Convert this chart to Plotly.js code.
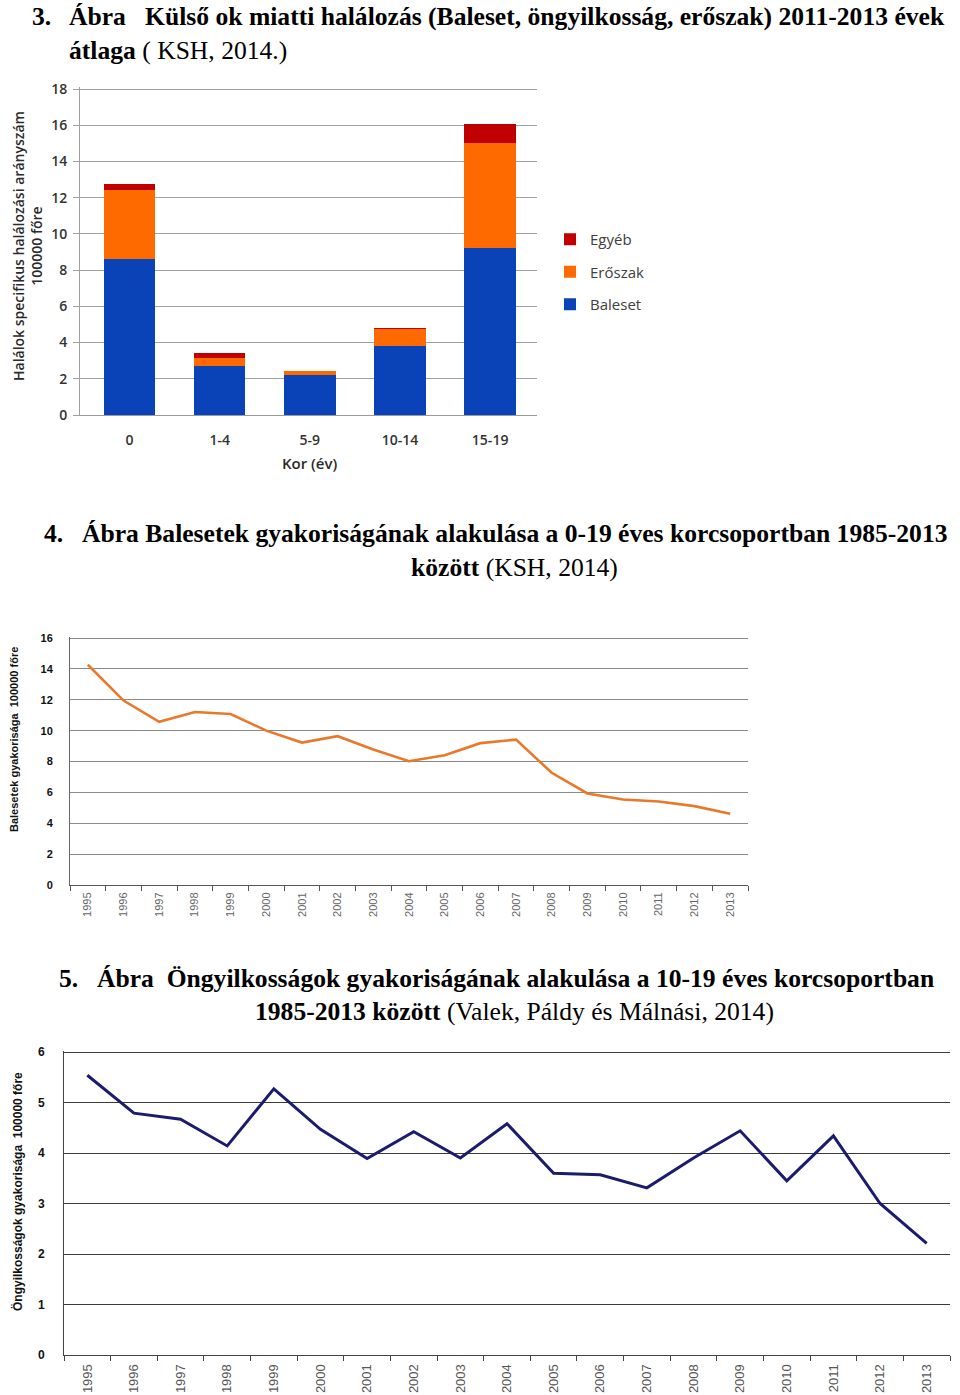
<!DOCTYPE html>
<html><head><meta charset="utf-8">
<script src="https://cdn.plot.ly/plotly-3.0.1.min.js"></script>
<style>body{margin:0;background:#fff}#c{width:960px;height:1395px}</style>
</head><body><div id="c"></div>
<script>
// ---- Chart 3 (stacked bars) ----
const ageGroups = ['0', '1-4', '5-9', '10-14', '15-19'];
const baleset = [8.6, 2.7, 2.23, 3.83, 9.24];
const eroszak = [3.8, 0.47, 0.18, 0.9, 5.8];
const egyeb = [0.35, 0.26, 0.02, 0.09, 1.05];

// ---- Chart 4 & 5 (lines) ----
const years = ['1995','1996','1997','1998','1999','2000','2001','2002','2003','2004',
               '2005','2006','2007','2008','2009','2010','2011','2012','2013'];
const balesetek = [14.27, 11.95, 10.57, 11.21, 11.08, 10.0, 9.23, 9.64, 8.78, 8.02,
                   8.41, 9.19, 9.42, 7.27, 5.93, 5.54, 5.41, 5.11, 4.61];
const ongyilkossag = [5.54, 4.79, 4.67, 4.14, 5.27, 4.47, 3.89, 4.42, 3.90, 4.58,
                      3.60, 3.57, 3.31, 3.90, 4.44, 3.45, 4.34, 3.00, 2.21];

const W = 960, H = 1395;
const fx = x => x / W, fy = y => 1 - y / H;

const sansC = 'Open Sans, Lato, sans-serif';
const arial = 'Liberation Sans, Arial, sans-serif';
const serif = 'Liberation Serif, Times New Roman, serif';

const traces = [
  {type:'bar', name:'Baleset', x:ageGroups, y:baleset, xaxis:'x', yaxis:'y',
   marker:{color:'#0a42b8'}, legendgroup:'a', legendrank:3},
  {type:'bar', name:'Erőszak', x:ageGroups, y:eroszak, xaxis:'x', yaxis:'y',
   marker:{color:'#ff6a00'}, legendgroup:'b', legendrank:2},
  {type:'bar', name:'Egyéb', x:ageGroups, y:egyeb, xaxis:'x', yaxis:'y',
   marker:{color:'#c00000'}, legendgroup:'c', legendrank:1},
  {type:'scatter', mode:'lines', x:years, y:balesetek, xaxis:'x2', yaxis:'y2',
   line:{color:'#e8782a', width:2.6}, showlegend:false},
  {type:'scatter', mode:'lines', x:years, y:ongyilkossag, xaxis:'x3', yaxis:'y3',
   line:{color:'#1c1c6e', width:3}, showlegend:false}
];

const capFont = {family:serif, size:25.6, color:'#000'};
const annotations = [
  // caption 3
  {text:'<b>3.</b>', x:fx(30), y:fy(17), xanchor:'left', yanchor:'middle', font:capFont},
  {text:'<b>Ábra   Külső ok miatti halálozás (Baleset, öngyilkosság, erőszak) 2011-2013 évek</b>', x:fx(67), y:fy(17), xanchor:'left', yanchor:'middle', font:capFont},
  {text:'<b>átlaga</b> ( KSH, 2014.)', x:fx(67), y:fy(50), xanchor:'left', yanchor:'middle', font:capFont},
  // caption 4
  {text:'<b>4.</b>', x:fx(42), y:fy(533), xanchor:'left', yanchor:'middle', font:capFont},
  {text:'<b>Ábra Balesetek gyakoriságának alakulása a 0-19 éves korcsoportban 1985-2013</b>', x:fx(80), y:fy(533), xanchor:'left', yanchor:'middle', font:capFont},
  {text:'<b>között</b> (KSH, 2014)', x:fx(514), y:fy(567), xanchor:'center', yanchor:'middle', font:capFont},
  // caption 5
  {text:'<b>5.</b>', x:fx(57), y:fy(978), xanchor:'left', yanchor:'middle', font:capFont},
  {text:'<b>Ábra  Öngyilkosságok gyakoriságának alakulása a 10-19 éves korcsoportban</b>', x:fx(95), y:fy(978), xanchor:'left', yanchor:'middle', font:capFont},
  {text:'<b>1985-2013 között</b> (Valek, Páldy és Málnási, 2014)', x:fx(514), y:fy(1011), xanchor:'center', yanchor:'middle', font:capFont},
  // axis titles
  {text:'Halálok specifikus halálozási arányszám<br>100000 főre', x:fx(28), y:fy(246), xanchor:'center', yanchor:'middle', textangle:-90,
   font:{family:sansC, size:14, color:'#2a2a2a', weight:600}},
  {text:'Kor (év)', x:fx(310), y:fy(463), xanchor:'center', yanchor:'middle',
   font:{family:sansC, size:15, color:'#2a2a2a', weight:600}},
  {text:'Balesetek gyakorisága  100000 főre', x:fx(14), y:fy(740), xanchor:'center', yanchor:'middle', textangle:-90,
   font:{family:arial, size:11, color:'#111', weight:'bold'}},
  {text:'Öngyilkosságok gyakorisága  100000 főre', x:fx(17), y:fy(1192), xanchor:'center', yanchor:'middle', textangle:-90,
   font:{family:arial, size:12, color:'#111', weight:'bold'}}
].map(a => Object.assign({xref:'paper', yref:'paper', showarrow:false}, a));

const layout = {
  width:W, height:H,
  margin:{l:0, r:0, t:0, b:0},
  paper_bgcolor:'#fff', plot_bgcolor:'rgba(0,0,0,0)',
  barmode:'stack', bargap:0.43,
  showlegend:true,
  legend:{x:fx(550), y:fy(223), xanchor:'left', yanchor:'top', traceorder:'grouped',
          tracegroupgap:10, itemwidth:30, bgcolor:'rgba(0,0,0,0)',
          font:{family:sansC, size:15, color:'#404040'}},
  annotations:annotations,
  xaxis:{domain:[fx(80), fx(537)], type:'category', range:[-0.55, 4.52], showgrid:false,
         showline:true, linecolor:'#9a9a9a', ticks:'', ticklabelstandoff:12, zeroline:false,
         tickfont:{family:sansC, size:14, color:'#333', weight:600}, fixedrange:true},
  yaxis:{domain:[fy(415), fy(87.2)], range:[0, 18.1], dtick:2, showgrid:true, gridcolor:'#a0a0a0',
         showline:true, linecolor:'#a0a0a0', ticks:'outside', ticklen:6, tickcolor:'#a0a0a0',
         ticklabelstandoff:3, zeroline:false,
         tickfont:{family:sansC, size:14, color:'#333', weight:600}},
  xaxis2:{domain:[fx(70), fx(748)], type:'category', range:[-0.5, 18.5], showgrid:false,
          showline:true, linecolor:'#555', ticks:'outside', tickson:'boundaries', ticklen:5,
          tickcolor:'#555', tickangle:-90, ticklabelstandoff:2, zeroline:false,
          tickfont:{family:arial, size:11, color:'#666'}, anchor:'y2'},
  yaxis2:{domain:[fy(885), fy(636.5)], range:[0, 16.1], dtick:2, showgrid:true, gridcolor:'#8a8a8a',
          showline:true, linecolor:'#666', ticks:'', ticklabelstandoff:14, zeroline:false,
          tickfont:{family:arial, size:11, color:'#111', weight:'bold'}, anchor:'x2'},
  xaxis3:{domain:[fx(64), fx(950)], type:'category', range:[-0.5, 18.5], showgrid:false,
          showline:true, linecolor:'#444', ticks:'outside', tickson:'boundaries', ticklen:5,
          tickcolor:'#444', tickangle:-90, ticklabelstandoff:3, zeroline:false,
          tickfont:{family:arial, size:13, color:'#555'}, anchor:'y3'},
  yaxis3:{domain:[fy(1355), fy(1050.5)], range:[0, 6.03], dtick:1, showgrid:true, gridcolor:'#3a3a3a',
          showline:true, linecolor:'#444', ticks:'', ticklabelstandoff:16, zeroline:false,
          tickfont:{family:arial, size:12, color:'#111', weight:'bold'}, anchor:'x3'}
};

Plotly.newPlot('c', traces, layout, {staticPlot:true});
</script>
</body></html>
